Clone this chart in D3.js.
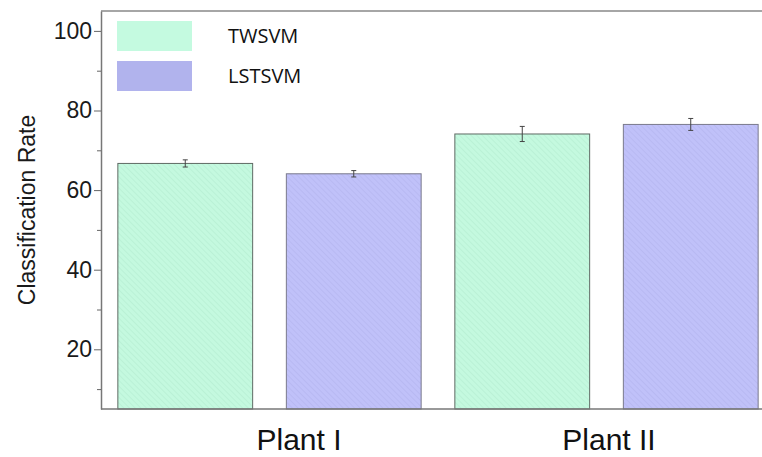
<!DOCTYPE html>
<html>
<head>
<meta charset="utf-8">
<script src="https://d3js.org/d3.v7.min.js"></script>
<style>
    body { margin: 0; background: #fff; }
    svg { display: block; }
</style>
</head>
<body>
<svg id="bar-chart"></svg>
<script>
// Chart data
const groups = ["Plant I", "Plant II"];
const methods = ["TWSVM", "LSTSVM"];
const twsvm_values = [66.7, 74.1];
const lstsvm_values = [64.1, 76.5];
const twsvm_errors = [0.9, 1.9];
const lstsvm_errors = [0.8, 1.5];
const y_major_ticks = [20, 40, 60, 80, 100];
const y_minor_ticks = [10, 30, 50, 70, 90];

// Colours for each method: bar fill, hatch line, legend swatch
const method_fill = { TWSVM: "#c4f9df", LSTSVM: "#c0c1f9" };
const method_hatch = { TWSVM: "#9fd8bd", LSTSVM: "#a2a3dc" };
const method_legend = { TWSVM: "#c4fae0", LSTSVM: "#b1b3ed" };

// Build a flat table of bars from the arrays
const bar_data = [];
groups.forEach((g, i) => {
    bar_data.push({ group: g, method: "TWSVM", value: twsvm_values[i], err: twsvm_errors[i] });
    bar_data.push({ group: g, method: "LSTSVM", value: lstsvm_values[i], err: lstsvm_errors[i] });
});

// Dimensions of the chart
const width = 762, height = 457;
const margins = { top: 11, right: -13, bottom: 48, left: 101 };
const chart_width = width - margins.left - margins.right;
const chart_height = height - margins.top - margins.bottom;

// Scales
const x0 = d3.scaleBand()
    .domain(groups)
    .range([0, chart_width]);
const x1 = d3.scaleBand()
    .domain(methods)
    .range([0, x0.bandwidth()])
    .paddingInner(0.2)
    .paddingOuter(0.1);
const y = d3.scaleLinear()
    .domain([5, 105])
    .range([chart_height, 0]);
// Group labels sit a little off the group centres in the reference
const label_x = d3.scalePoint()
    .domain(groups)
    .range([198, 508]);

const svg = d3.select("#bar-chart")
    .attr("width", width)
    .attr("height", height);

// Hatch patterns for the bars (lines falling to the right)
const defs = svg.append("defs");
methods.forEach(m => {
    const p = defs.append("pattern")
        .attr("id", "hatch-" + m)
        .attr("patternUnits", "userSpaceOnUse")
        .attr("width", 4)
        .attr("height", 4)
        .attr("patternTransform", "rotate(45)");
    p.append("rect")
        .attr("width", 4)
        .attr("height", 4)
        .attr("fill", method_fill[m]);
    p.append("line")
        .attr("x1", 0).attr("y1", 0)
        .attr("x2", 4).attr("y2", 0)
        .attr("stroke", method_hatch[m])
        .attr("stroke-width", 1)
        .attr("stroke-opacity", 0.55);
});

const plot = svg.append("g")
    .attr("transform", `translate(${margins.left}, ${margins.top})`);

// Bars
const bars = plot.selectAll(".bar")
    .data(bar_data)
    .enter()
    .append("g")
    .attr("class", "bar")
    .attr("transform", d => `translate(${x0(d.group) + x1(d.method)}, 0)`);

bars.append("rect")
    .attr("x", 0)
    .attr("y", d => y(d.value))
    .attr("width", x1.bandwidth())
    .attr("height", d => chart_height - y(d.value))
    .attr("fill", d => `url(#hatch-${d.method})`)
    .attr("stroke", d => d.method === "TWSVM" ? "#5f6a64" : "#7a7a8c")
    .attr("stroke-width", 1);

// Error bars
const cx = x1.bandwidth() / 2;
bars.append("line")
    .attr("x1", cx).attr("x2", cx)
    .attr("y1", d => y(d.value + d.err))
    .attr("y2", d => y(d.value - d.err))
    .attr("stroke", "#444")
    .attr("stroke-width", 1);
bars.selectAll(".cap")
    .data(d => [d.value + d.err, d.value - d.err])
    .enter()
    .append("line")
    .attr("class", "cap")
    .attr("x1", cx - 2.5).attr("x2", cx + 2.5)
    .attr("y1", v => y(v)).attr("y2", v => y(v))
    .attr("stroke", "#444")
    .attr("stroke-width", 1);

// Frame lines: top border and bottom axis
plot.append("line")
    .attr("x1", 0).attr("x2", chart_width)
    .attr("y1", 0).attr("y2", 0)
    .attr("stroke", "#888")
    .attr("stroke-width", 1.5);
plot.append("line")
    .attr("x1", 0).attr("x2", chart_width)
    .attr("y1", chart_height).attr("y2", chart_height)
    .attr("stroke", "#777")
    .attr("stroke-width", 1.5);

// Y axis with major and minor ticks
const y_axis = plot.append("g")
    .call(d3.axisLeft(y).tickValues(y_major_ticks).tickSize(7).tickPadding(2).tickSizeOuter(0))
    .call(g => g.select(".domain").attr("stroke", "#777").attr("stroke-width", 1.5));
y_axis.selectAll(".tick line").attr("stroke", "#666");
y_axis.selectAll("text")
    .style("font-family", "'Liberation Sans', Arial, sans-serif")
    .style("font-size", "23px")
    .attr("fill", "#1a1a1a");
plot.append("g")
    .call(d3.axisLeft(y).tickValues(y_minor_ticks).tickSize(4).tickFormat(""))
    .call(g => g.select(".domain").remove())
    .selectAll(".tick line").attr("stroke", "#666");

// Y axis title
svg.append("text")
    .attr("transform", `translate(35, ${margins.top + y(55)}) rotate(-90)`)
    .attr("text-anchor", "middle")
    .style("font-family", "'Liberation Sans', Arial, sans-serif")
    .style("font-size", "23px")
    .attr("fill", "#1a1a1a")
    .text("Classification Rate");

// Group labels under the axis
plot.selectAll(".group-label")
    .data(groups)
    .enter()
    .append("text")
    .attr("class", "group-label")
    .attr("x", d => label_x(d))
    .attr("y", chart_height + 41)
    .attr("text-anchor", "middle")
    .style("font-family", "'Liberation Sans', Arial, sans-serif")
    .style("font-size", "30px")
    .attr("fill", "#111")
    .text(d => d);

// Legend
const legend_y = d3.scaleBand()
    .domain(methods)
    .range([10, 80])
    .paddingInner(0.25);
const legend = plot.selectAll(".legend")
    .data(methods)
    .enter()
    .append("g")
    .attr("class", "legend")
    .attr("transform", d => `translate(16, ${legend_y(d)})`);
legend.append("rect")
    .attr("width", 75)
    .attr("height", legend_y.bandwidth())
    .attr("fill", d => method_legend[d]);
legend.append("text")
    .attr("x", 111)
    .attr("y", legend_y.bandwidth() / 2)
    .attr("dy", "0.36em")
    .style("font-family", "'Open Sans', 'Noto Sans', sans-serif")
    .style("font-size", "20px")
    .attr("fill", "#111")
    .text(d => d);
</script>
</body>
</html>
